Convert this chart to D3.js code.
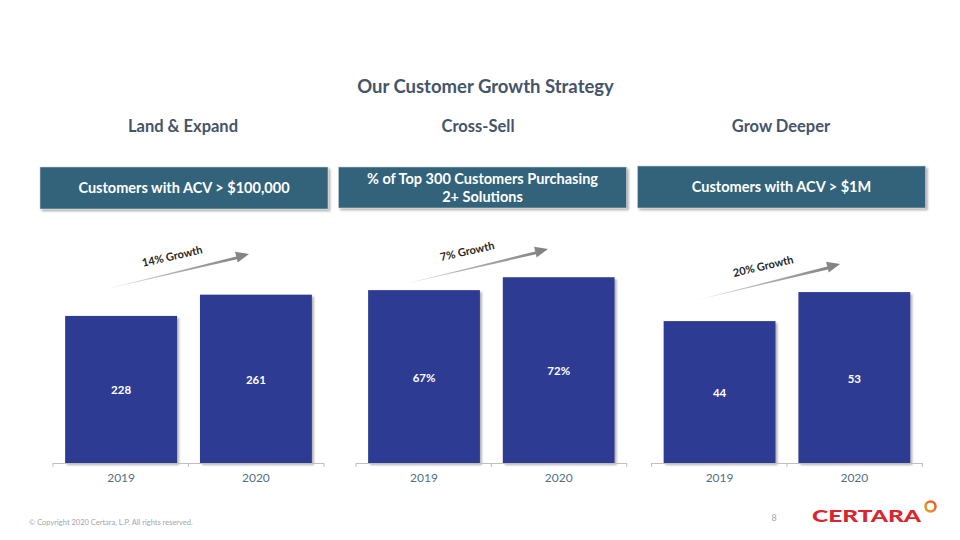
<!DOCTYPE html>
<html><head><meta charset="utf-8">
<script src="https://cdn.jsdelivr.net/npm/d3@7"></script>
<style>body{margin:0;background:#fff}svg{display:block}text{font-family:Lato,"Open Sans",sans-serif}</style>
</head><body>
<svg id="c" width="960" height="540"></svg>
<script>
const categories = ["2019", "2020"];
const pillarTitles = ["Land & Expand", "Cross-Sell", "Grow Deeper"];
const headerLines = [["Customers with ACV > $100,000"], ["% of Top 300 Customers Purchasing", "2+ Solutions"], ["Customers with ACV > $1M"]];
const landExpand = [228, 261];
const crossSell = [67, 72];
const growDeeper = [44, 53];
const valueLabels = [["228", "261"], ["67%", "72%"], ["44", "53"]];
const growthLabels = ["14% Growth", "7% Growth", "20% Growth"];
const domainMax = [300, 75, 60];
const seriesAll = [landExpand, crossSell, growDeeper];

const svg = d3.select("#c");
const defs = svg.append("defs");
const sh = defs.append("filter").attr("id","sh").attr("x","-10%").attr("y","-10%").attr("width","130%").attr("height","130%");
sh.append("feDropShadow").attr("dx",2).attr("dy",2).attr("stdDeviation",1.2).attr("flood-color","#000").attr("flood-opacity",0.3);
const gr = defs.append("linearGradient").attr("id","ag").attr("x1","0").attr("x2","1").attr("y1","0").attr("y2","0");
gr.append("stop").attr("offset","0").attr("stop-color","#d9d9d9");
gr.append("stop").attr("offset","1").attr("stop-color","#7f7f7f");
const rg = defs.append("linearGradient").attr("id","rg").attr("x1","0").attr("x2","1").attr("y1","1").attr("y2","0");
rg.append("stop").attr("offset","0").attr("stop-color","#f0a21c");
rg.append("stop").attr("offset","1").attr("stop-color","#e8542a");

svg.append("text").attr("x",485.5).attr("y",93).attr("text-anchor","middle")
  .attr("font-size",18.5).attr("font-weight","bold").attr("fill","#44546a").text("Our Customer Growth Strategy");

const panels = [
  {x0:53, x1:324, box:[40,167,288,42], title:183, arrow:[[106,289],[249,254]], lab:[173,256]},
  {x0:356, x1:626.7, box:[338.5,167,288,41], title:478, arrow:[[404,284],[548,249]], lab:[468,251]},
  {x0:651.5, x1:922.4, box:[637.5,166,288,42], title:781, arrow:[[697,300],[840,264]], lab:[764,266]}
];
const baseY = 463, topY = 269.5;

panels.forEach((p, i) => {
  const g = svg.append("g");
  g.append("text").attr("x",p.title).attr("y",132).attr("text-anchor","middle")
    .attr("font-size",16.5).attr("font-weight","bold").attr("fill","#44546a").text(pillarTitles[i]);
  const [bx,by,bw,bh] = p.box;
  g.append("rect").attr("x",bx).attr("y",by).attr("width",bw).attr("height",bh)
    .attr("fill","#31637a").attr("stroke","#c8d0d4").attr("stroke-width",0.6).attr("filter","url(#sh)");
  const lines = headerLines[i];
  lines.forEach((t, j) => {
    g.append("text").attr("x",bx+bw/2).attr("y",by+bh/2 + 5 + (j-(lines.length-1)/2)*18)
      .attr("text-anchor","middle").attr("font-size",14.5).attr("font-weight","bold").attr("fill","#fff").text(t);
  });

  const x = d3.scaleBand().domain(categories).range([p.x0,p.x1]).paddingInner(0.17).paddingOuter(0.09);
  const y = d3.scaleLinear().domain([0, domainMax[i]]).range([baseY, topY]);
  const data = categories.map((c, k) => ({c, v: seriesAll[i][k], l: valueLabels[i][k]}));

  g.selectAll(".bar").data(data).join("rect")
    .attr("x", d => x(d.c)).attr("y", d => y(d.v))
    .attr("width", x.bandwidth()).attr("height", d => y(0) - y(d.v))
    .attr("fill","#2e3b93").attr("filter","url(#sh)");
  g.selectAll(".vl").data(data).join("text")
    .attr("x", d => x(d.c) + x.bandwidth()/2).attr("y", d => (y(d.v) + y(0))/2 + 5)
    .attr("text-anchor","middle").attr("font-size",11.5).attr("font-weight","bold").attr("fill","#fff").text(d => d.l);

  // axis
  const ax = g.append("g").attr("transform",`translate(0,${baseY})`)
    .call(d3.axisBottom(x).tickSize(0).tickPadding(10));
  ax.select(".domain").remove();
  ax.selectAll("text").attr("font-size",12).attr("fill","#4f7186").attr("font-family","Lato, sans-serif");
  const [r0, r1] = x.range();
  g.append("line").attr("x1",r0).attr("x2",r1).attr("y1",baseY+0.5).attr("y2",baseY+0.5).attr("stroke","#bfbfbf").attr("stroke-width",1);
  [r0, (r0+r1)/2, r1].forEach(tx => {
    g.append("line").attr("x1",tx).attr("x2",tx).attr("y1",baseY).attr("y2",baseY+4).attr("stroke","#bfbfbf");
  });

  // growth arrow (tapered)
  const [[sx,sy],[ex,ey]] = p.arrow;
  const dx = ex-sx, dy = ey-sy, L = Math.hypot(dx,dy);
  const ux = dx/L, uy = dy/L, nx = -uy, ny = ux;
  const headL = 13, headW = 5.5, shaftW = 2.3;
  const hbx = ex - ux*headL, hby = ey - uy*headL;
  const pts = [
    [sx, sy],
    [hbx + nx*shaftW, hby + ny*shaftW],
    [hbx + nx*headW, hby + ny*headW],
    [ex, ey],
    [hbx - nx*headW, hby - ny*headW],
    [hbx - nx*shaftW*0.3, hby - ny*shaftW*0.3],
  ];
  g.append("path").attr("d", d3.line()(pts) + "Z").attr("fill","url(#ag)");
  const ang = Math.atan2(dy,dx)*180/Math.PI;
  g.append("text").attr("transform",`translate(${p.lab[0]},${p.lab[1]+4}) rotate(${ang+1})`)
    .attr("text-anchor","middle").attr("font-size",11).attr("font-weight","bold").attr("fill","#262626").text(growthLabels[i]);
});

// footer
svg.append("text").attr("x",29).attr("y",525).attr("font-size",7.5).attr("fill","#a6a6a6")
  .text("© Copyright 2020 Certara, L.P.  All rights reserved.");
svg.append("text").attr("x",774).attr("y",521).attr("text-anchor","middle").attr("font-size",9).attr("fill","#a6a6a6").text("8");
svg.append("text").attr("x",812).attr("y",522).attr("font-size",17).attr("font-weight","900")
  .attr("fill","#d9262e").attr("font-family","Lato, sans-serif").attr("textLength",109).attr("lengthAdjust","spacingAndGlyphs").text("CERTARA");
svg.append("circle").attr("cx",930.5).attr("cy",506.5).attr("r",5).attr("fill","none").attr("stroke","url(#rg)").attr("stroke-width",2.5);
</script>
</body></html>
